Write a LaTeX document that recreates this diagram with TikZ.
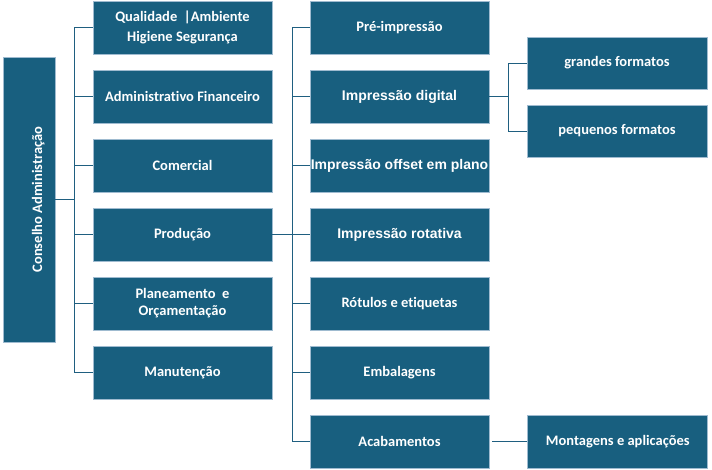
\documentclass[tikz,border=0pt]{standalone}
\usepackage{fontspec}
\setmainfont{Carlito}[Ligatures=NoCommon]
\newfontfamily\arialfont{Liberation Sans}
\usetikzlibrary{positioning}
\definecolor{cteal}{HTML}{185F7F}
\definecolor{cedge}{HTML}{9FBBD0}
\definecolor{cline}{HTML}{1F5F80}
\newcommand\artxt[1]{{\arialfont\fontsize{14}{17}\selectfont #1}}
\tikzset{
  box/.style={draw=cedge, fill=cteal, line width=0.8pt, text=white, align=center, inner sep=0pt,
    minimum width=179pt, minimum height=53pt, font=\bfseries\fontsize{14.5}{17}\selectfont},
  conn/.style={draw=cline, line width=1pt},
}

\begin{document}
\begin{tikzpicture}[x=1pt, y=-1pt]
  \useasboundingbox (0,0) rectangle (712,469);
  % board, vertical
  \node[box, rotate=90, minimum width=285pt, minimum height=52pt, text height=26pt, text depth=0pt]
    (ca) at (29,199.5) {Conselho Administração};
  % departments
  \foreach \t [count=\i] in {{Qualidade\ \ |Ambiente\\[3.5pt]Higiene Segurança}, {Administrativo Financeiro},
      {Comercial}, {Produção}, {Planeamento\ \ e\\Orçamentação}, {Manutenção}} {
    \node[box] (dep\i) at (182.5, 27.5+69*\i-69) {\t};
  }
  % production sections
  \foreach \t [count=\i] in {{Pré-impressão}, {\artxt{Impressão digital}}, {\artxt{Impressão offset em plano}},
      {\artxt{Impressão rotativa}}, {Rótulos e etiquetas}, {Embalagens}, {Acabamentos}} {
    \node[box] (sec\i) at (399.5, 27.5+69*\i-69) {\t};
  }
  \node[box, minimum width=180pt, minimum height=52pt] (fmt1) at (617,63) {grandes formatos};
  \node[box, minimum width=180pt, minimum height=52pt] (fmt2) at (617,131) {pequenos formatos};
  \node[box, minimum width=180pt, right=38pt of sec7] (mont) {Montagens e aplicações};

  % connectors
  \coordinate (bus1) at (74,199.5);
  \coordinate (bus2) at (292,234.5);
  \coordinate (bus3) at (508,96.5);
  \draw[conn] (ca.south) -- (bus1);
  \foreach \i in {1,...,6} \draw[conn] (bus1) |- (dep\i.west);
  \draw[conn] (dep4.east) -- (bus2);
  \foreach \i in {1,...,7} \draw[conn] (bus2) |- (sec\i.west);
  \draw[conn] (sec2.east) -- (bus3);
  \draw[conn] (bus3) |- (fmt1.west);
  \draw[conn] (bus3) |- (fmt2.west);
  \draw[conn, shorten <=3pt] (sec7.east) -- (mont.west);
\end{tikzpicture}
\end{document}
